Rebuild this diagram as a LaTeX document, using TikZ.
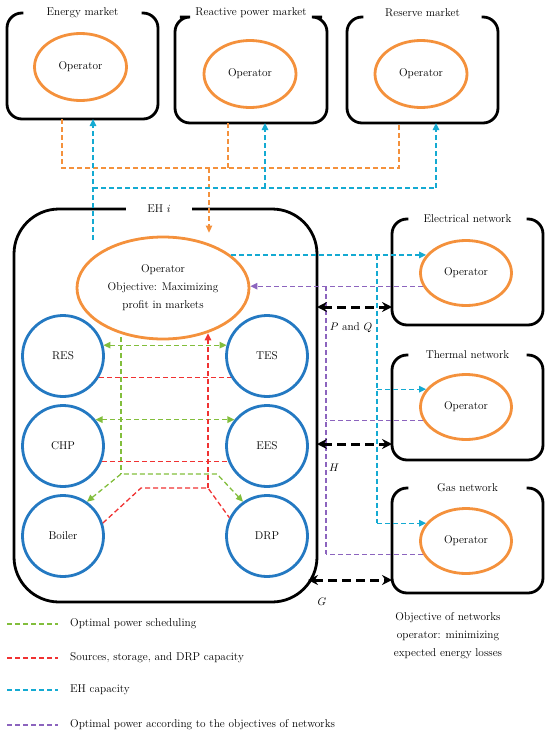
\documentclass[tikz,border=0pt]{standalone}
\usetikzlibrary{arrows.meta,calc,shapes.geometric}
\definecolor{orng}{RGB}{244,145,60}
\definecolor{blu}{RGB}{36,121,194}
\definecolor{grn}{RGB}{130,190,60}
\definecolor{rd}{RGB}{240,50,50}
\definecolor{cyn}{RGB}{20,170,210}
\definecolor{prp}{RGB}{140,100,190}
\begin{document}
\begin{tikzpicture}[x=1pt,y=-1pt,
  txt/.style={font=\fontsize{11.3}{13}\selectfont},
  holder/.style={inner sep=0pt,outer sep=0pt},
  boxline/.style={line width=2.8pt,rounded corners=15pt},
  ttl/.style={txt,inner sep=0pt,minimum height=12pt,minimum width=118pt},
  mkell/.style={ellipse,draw=orng,line width=2.8pt,minimum width=92pt,minimum height=67pt,inner sep=0pt,txt},
  netell/.style={ellipse,draw=orng,line width=2.8pt,minimum width=91pt,minimum height=65pt,inner sep=0pt,txt},
  unit/.style={circle,draw=blu,line width=2.8pt,minimum size=81pt,inner sep=0pt,txt},
  dl/.style={line width=1.3pt,dash pattern=on 5pt off 3pt},
  orl/.style={dl,draw=orng},
  cyl/.style={dl,draw=cyn},
  grl/.style={dl,draw=grn},
  rdl/.style={dl,draw=rd},
  pul/.style={dl,draw=prp},
  tip/.style={-{Triangle[length=7pt,width=6.5pt]}},
  dtip/.style={{Triangle[length=7pt,width=6.5pt]}-{Triangle[length=7pt,width=6.5pt]}},
  bk/.style={line width=3pt,dash pattern=on 9pt off 5pt,{Stealth[length=10pt,width=10pt]}-{Stealth[length=10pt,width=10pt]}},
  lbl/.style={txt,inner sep=0pt}
  ]
\useasboundingbox (0,0) rectangle (550,737);

% ---------- market boxes ----------
\node[holder,minimum width=151pt,minimum height=106pt] (em) at (82.5,66) {};
\node[ttl] (emt) at (em.north) {Energy market};
\draw[boxline] (emt.east) -- (em.north east) -- (em.south east) -- (em.south west) -- (em.north west) -- (emt.west);
\node[mkell] (eo1) at (80.5,67) {Operator};

\node[holder,minimum width=152pt,minimum height=106pt] (rm) at (251,70) {};
\node[ttl,minimum width=142pt] (rmt) at ([yshift=4pt]rm.north) {Reactive power market};
\draw[boxline] (rmt.east |- rm.north) -- (rm.north east) -- (rm.south east) -- (rm.south west) -- (rm.north west) -- (rmt.west |- rm.north);
\node[mkell] (eo2) at (250,74) {Operator};

\node[holder,minimum width=151pt,minimum height=106pt] (sm) at (422.5,70) {};
\node[ttl] (smt) at ([yshift=4pt]sm.north) {Reserve market};
\draw[boxline] (smt.east |- sm.north) -- (sm.north east) -- (sm.south east) -- (sm.south west) -- (sm.north west) -- (smt.west |- sm.north);
\node[mkell] (eo3) at (421,74) {Operator};

% ---------- EH ----------
\node[holder,minimum width=303pt,minimum height=393pt] (eh) at (165.5,405.5) {};
\node[ttl,minimum width=66pt] (eht) at ([xshift=-6.5pt]eh.north) {EH $i$};
\draw[boxline,rounded corners=45pt] (eht.east) -- (eh.north east) -- (eh.south east) -- (eh.south west) -- (eh.north west) -- (eht.west);
\node[ellipse,draw=orng,line width=2.8pt,minimum width=172pt,minimum height=102pt,inner sep=0pt,
      txt,align=center,font=\fontsize{11.3}{18}\selectfont] (eho) at (163,288)
      {Operator\\Objective: Maximizing\\profit in markets};

\node[unit] (res) at (63,356) {RES};
\node[unit] (chp) at (63,446) {CHP};
\node[unit] (boi) at (63,536) {Boiler};
\node[unit] (tes) at (267,356) {TES};
\node[unit] (ees) at (267,446) {EES};
\node[unit] (drp) at (267,536) {DRP};

% ---------- networks ----------
\node[holder,minimum width=151pt,minimum height=106pt] (nb1) at (467.5,272) {};
\node[ttl] (nt1) at (nb1.north) {Electrical network};
\draw[boxline] (nt1.east) -- (nb1.north east) -- (nb1.south east) -- (nb1.south west) -- (nb1.north west) -- (nt1.west);
\node[netell] (ne1) at (466,273) {Operator};

\node[holder,minimum width=151pt,minimum height=105pt] (nb2) at (467.5,407.5) {};
\node[ttl] (nt2) at (nb2.north) {Thermal network};
\draw[boxline] (nt2.east) -- (nb2.north east) -- (nb2.south east) -- (nb2.south west) -- (nb2.north west) -- (nt2.west);
\node[netell] (ne2) at (466,407) {Operator};

\node[holder,minimum width=151pt,minimum height=105pt] (nb3) at (467.5,540.5) {};
\node[ttl] (nt3) at (nb3.north) {Gas network};
\draw[boxline] (nt3.east) -- (nb3.north east) -- (nb3.south east) -- (nb3.south west) -- (nb3.north west) -- (nt3.west);
\node[netell] (ne3) at (466,541) {Operator};

% ---------- orange: markets -> EH operator ----------
\coordinate (oL) at (62,168);
\coordinate (oM) at (228,168);
\coordinate (oR) at (399,168);
\coordinate (oD) at (209,168);
\draw[orl] (em.south -| oL) -- (oL) -- (oR) -- (sm.south -| oR);
\draw[orl] (rm.south -| oM) -- (oM);
\draw[orl,tip] (oD) -- ([yshift=3pt]oD |- eho.north);

% ---------- cyan: EH -> markets ----------
\coordinate (c0) at (93,240);
\coordinate (cL) at (93,188);
\coordinate (cM) at (265,188);
\coordinate (cR) at (436,188);
\draw[cyl,tip] (c0) -- (cL |- em.south);
\draw[cyl] (cL) -- (cR);
\draw[cyl,tip] (cM) -- (cM |- rm.south);
\draw[cyl,tip] (cR) -- (cR |- sm.south);

% ---------- cyan: EH operator -> networks ----------
\coordinate (cj) at (377,0);
\draw[cyl,tip] (eho.26) -- (eho.26 -| ne1.156);
\draw[cyl] (eho.26 -| cj) -- (ne3.156 -| cj);
\draw[cyl,tip] (ne2.156 -| cj) -- (ne2.156);
\draw[cyl,tip] (ne3.156 -| cj) -- (ne3.156);

% ---------- purple: networks -> EH operator ----------
\coordinate (pj) at (326,0);
\draw[pul,tip] (ne1.197) -- (ne1.197 -| eho.east);
\draw[pul] (ne1.197 -| pj) -- (ne3.197 -| pj);
\draw[pul] (ne2.197) -- (ne2.197 -| pj);
\draw[pul] (ne3.197) -- (ne3.197 -| pj);

% ---------- black energy exchanges ----------
\coordinate (pq) at (0,307);
\coordinate (hh) at (0,444);
\coordinate (gg) at (308,580);
\draw[bk] (eh.east |- pq) -- (nb1.west |- pq);
\draw[bk] (eh.east |- hh) -- (nb2.west |- hh);
\draw[bk] (gg) -- (nb3.west |- gg);
\node[lbl] (lpq) at (351,328) {$P$ and $Q$};
\node[lbl] (lh) at (334,468) {$H$};
\node[lbl] (lg) at (322,602) {$G$};

% ---------- green: scheduling ----------
\coordinate (gtop) at (121,337);
\coordinate (gv) at (121,474);
\coordinate (gv2) at (217,474);
\draw[grl,dtip] (res.15) -- (tes.165);
\draw[grl,dtip] (chp.39) -- (ees.141);
\draw[grl] (gtop) -- (gv);
\draw[grl,dtip] (boi.55) -- (gv) -- (gv2) -- (drp.125);

% ---------- red: capacity ----------
\coordinate (rj) at (208,488);
\coordinate (rb) at (141,488);
\draw[rdl] (res.-31) -- (tes.211);
\draw[rdl] (chp.-22) -- (ees.202);
\draw[rdl,tip] (rj) -- (rj |- eho.-46);
\draw[rdl] (boi.18) -- (rb) -- (rj) -- (drp.154);

% ---------- legend ----------
\node[lbl,anchor=west] (lg1) at (70,624) {Optimal power scheduling};
\node[lbl,anchor=west] (lg2) at (70,658) {Sources, storage, and DRP capacity};
\node[lbl,anchor=west] (lg3) at (70,690) {EH capacity};
\node[lbl,anchor=west] (lg4) at (70,725) {Optimal power according to the objectives of networks};
\coordinate (l1) at (7,624);
\coordinate (l2) at (7,658);
\coordinate (l3) at (7,690);
\coordinate (l4) at (7,725);
\draw[grl] (l1) -- ([xshift=-12pt]lg1.west);
\draw[rdl] (l2) -- ([xshift=-12pt]lg2.west);
\draw[cyl] (l3) -- ([xshift=-12pt]lg3.west);
\draw[pul] (l4) -- ([xshift=-12pt]lg4.west);

\node[txt,align=center,font=\fontsize{11.3}{18}\selectfont] (obj) at (448,636)
  {Objective of networks\\operator: minimizing\\expected energy losses};
\end{tikzpicture}
\end{document}
